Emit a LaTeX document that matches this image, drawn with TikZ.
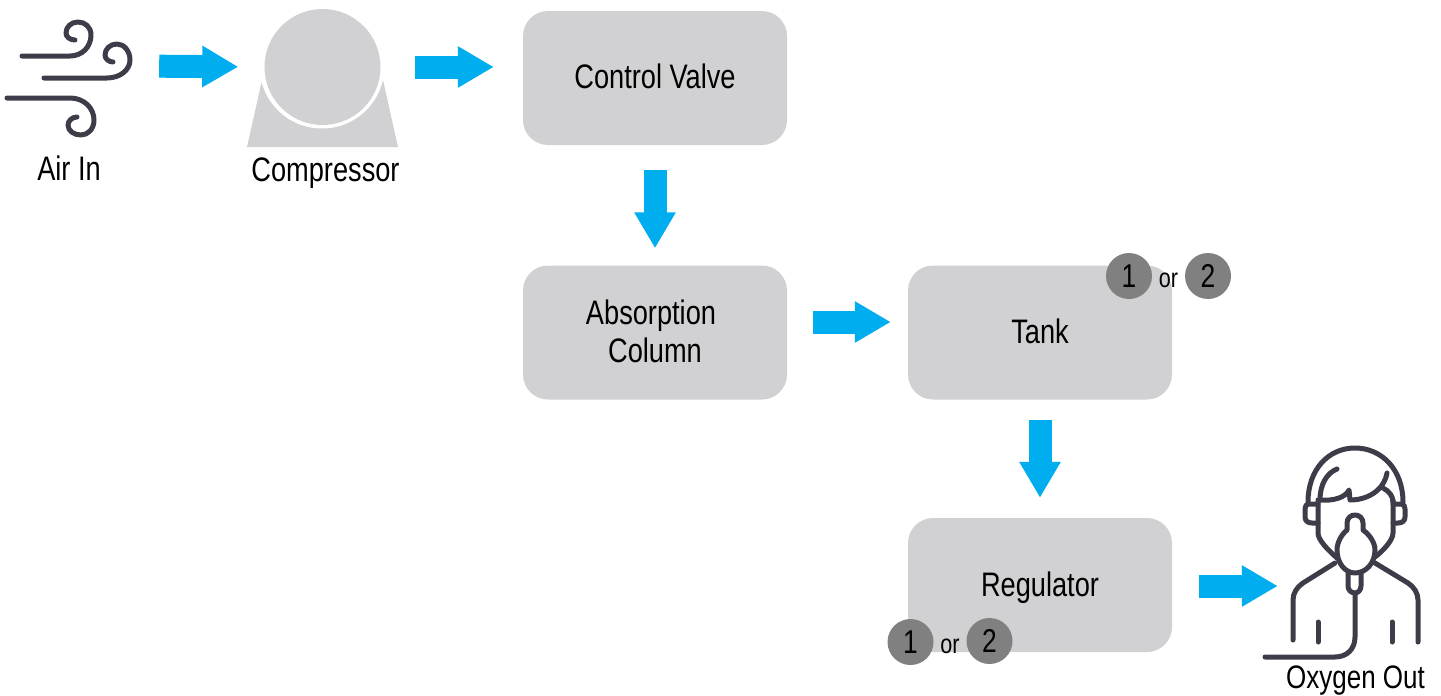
\documentclass[tikz,border=0pt]{standalone}
\usepackage{fontspec}
\setmainfont[FakeStretch=0.80]{Liberation Sans}
\usetikzlibrary{arrows.meta}
\definecolor{boxgray}{HTML}{D1D1D3}
\definecolor{flowblue}{HTML}{00AEEF}
\definecolor{iconink}{HTML}{3D3C48}
\definecolor{badgegray}{HTML}{808080}
\tikzset{
  stepbox/.style={rectangle,rounded corners=25pt,fill=boxgray,minimum width=264pt,minimum height=134pt,inner sep=0pt,align=center,font=\fontsize{34}{38}\selectfont},
  flow/.style={draw=flowblue,line width=23pt,-{Triangle[length=36pt,width=39pt,color=flowblue]}},
  label/.style={inner sep=0pt,font=\fontsize{34}{38}\selectfont},
  badge/.style={circle,fill=badgegray,minimum size=46pt,inner sep=0pt,font=\fontsize{33}{36}\selectfont},
  ortext/.style={inner sep=0pt,font=\fontsize{27}{30}\selectfont},
  anchorbox/.style={rectangle,inner sep=0pt},
  icon/.style={draw=iconink,line width=5pt,line cap=round,line join=round}
}
\begin{document}
\begin{tikzpicture}[x=1pt,y=-1pt]
\useasboundingbox (0,0) rectangle (1441,696);
% Boxes
\node[stepbox] (valve) at (655,78) {};
\node[stepbox] (absorb) at (655,332.5) {};
\node[stepbox] (tank) at (1040,332.5) {};
\node[stepbox] (reg) at (1040,585) {};
\node[label] at (655,76) {Control Valve};
\node[label] at (651,316) {Absorption};
\node[label] at (655,350) {Column};
\node[label] at (1040,331) {Tank};
\node[label] at (1040,588) {Regulator};
% Compressor
\fill[boxgray] (247,147) -- (398,147) -- (383,80) -- (262,80) -- cycle;
\fill[white] (322,66) circle (62.5);
\node[circle,fill=boxgray,minimum size=116pt,inner sep=0pt] (comp) at (322.5,67) {};
\node[label] at (325.5,173) {Compressor};
\node[label] at (69,168) {Air In};
\node[label,font=\fontsize{32.5}{36}\selectfont] at (1355.5,681) {Oxygen Out};
% Wind
\node[anchorbox,minimum width=128pt,minimum height=132pt] (air) at (69,66) {};
\draw[icon] (22,56) -- (70,56) .. controls (82,56) and (91,47) .. (91,35) .. controls (91,27) and (85,22) .. (78,22) .. controls (71,22) and (66,27) .. (66,33) .. controls (66,37) and (70,40) .. (75,40);
\draw[icon] (44,78) -- (107,78) .. controls (120,78) and (130,70) .. (130,60) .. controls (130,51) and (124,44) .. (117,44) .. controls (110,44) and (105,49) .. (105,55) .. controls (105,59) and (109,62) .. (113,62);
\draw[icon] (7,98) -- (70,98) .. controls (84,98) and (94,108) .. (94,120) .. controls (94,129) and (88,135) .. (81,135) .. controls (74,135) and (68,131) .. (68,125) .. controls (68,121) and (72,117) .. (77,117);
% Person
\node[anchorbox,minimum width=130pt,minimum height=10pt] (person) at (1355,586) {};
\draw[icon] (1308,502) .. controls (1308,470) and (1328,448) .. (1355,448) .. controls (1382,448) and (1403,470) .. (1403,502);
\draw[icon] (1318,504) -- (1310,504) .. controls (1306,504) and (1305,506) .. (1305,509) -- (1305,517) .. controls (1305,521) and (1308,523) .. (1312,523) -- (1318,523);
\draw[icon] (1393,504) -- (1401,504) .. controls (1404,504) and (1405,506) .. (1405,509) -- (1405,517) .. controls (1405,521) and (1402,523) .. (1398,523) -- (1393,523);
\draw[icon] (1318,500) -- (1318,533) .. controls (1318,540) and (1328,550) .. (1337,558);
\draw[icon] (1393,500) -- (1393,533) .. controls (1393,540) and (1384,550) .. (1375,557);
\draw[icon] (1337,469) .. controls (1327,473) and (1320,484) .. (1320,500) .. controls (1333,501) and (1345,498) .. (1349,490) -- (1350,500) .. controls (1368,500) and (1384,490) .. (1387,473);
\draw[icon] (1383,488) .. controls (1389,491) and (1393,496) .. (1393,502);
\draw[icon] (1347,530) -- (1347,523) .. controls (1347,518) and (1351,515) .. (1355,515) .. controls (1359,515) and (1363,518) .. (1363,523) -- (1363,530) .. controls (1370,535) and (1375,543) .. (1375,550) .. controls (1375,563) and (1366,573) .. (1355,573) .. controls (1345,573) and (1337,563) .. (1337,550) .. controls (1337,543) and (1341,535) .. (1347,530) -- cycle;
\draw[icon] (1348,573) -- (1348,586) .. controls (1348,590) and (1351,593) .. (1355,593) .. controls (1358,593) and (1361,590) .. (1361,586) -- (1361,573);
\draw[icon] (1355,593) -- (1355,637) .. controls (1355,649) and (1347,657) .. (1335,657) -- (1265,657);
\draw[icon] (1335,563) -- (1303,583) .. controls (1297,587) and (1293,593) .. (1293,600) -- (1293,640);
\draw[icon] (1375,563) -- (1408,583) .. controls (1414,587) and (1418,593) .. (1418,600) -- (1418,642);
\draw[icon] (1318,622) -- (1318,642);
\draw[icon] (1392,622) -- (1392,642);
% Connectors
\draw[flow,shorten <=26pt,shorten >=26pt] (air.east) -- (comp.west);
\draw[flow,shorten <=34.5pt,shorten >=29pt] (comp.east) -- (comp.east -| valve.west);
\draw[flow,shorten <=25pt,shorten >=17pt] (valve.south) -- (absorb.north);
\draw[flow,shorten <=26pt,shorten >=17pt] ([yshift=10.5pt]absorb.east) -- ([yshift=10.5pt]tank.west);
\draw[flow,shorten <=20pt,shorten >=20pt] (tank.south) -- (reg.north);
\draw[flow,shorten <=27pt,shorten >=12pt] ([yshift=-1pt]reg.east) -- (person.west);
% Badges
\node[badge] (t1) at (1129,276) {1};
\node[badge] (t2) at (1208,276) {2};
\node[ortext] at (1168.5,280) {or};
\node[badge] (r1) at (910.5,642) {1};
\node[badge] (r2) at (989.5,641) {2};
\node[ortext] at (950,646) {or};
\end{tikzpicture}
\end{document}
